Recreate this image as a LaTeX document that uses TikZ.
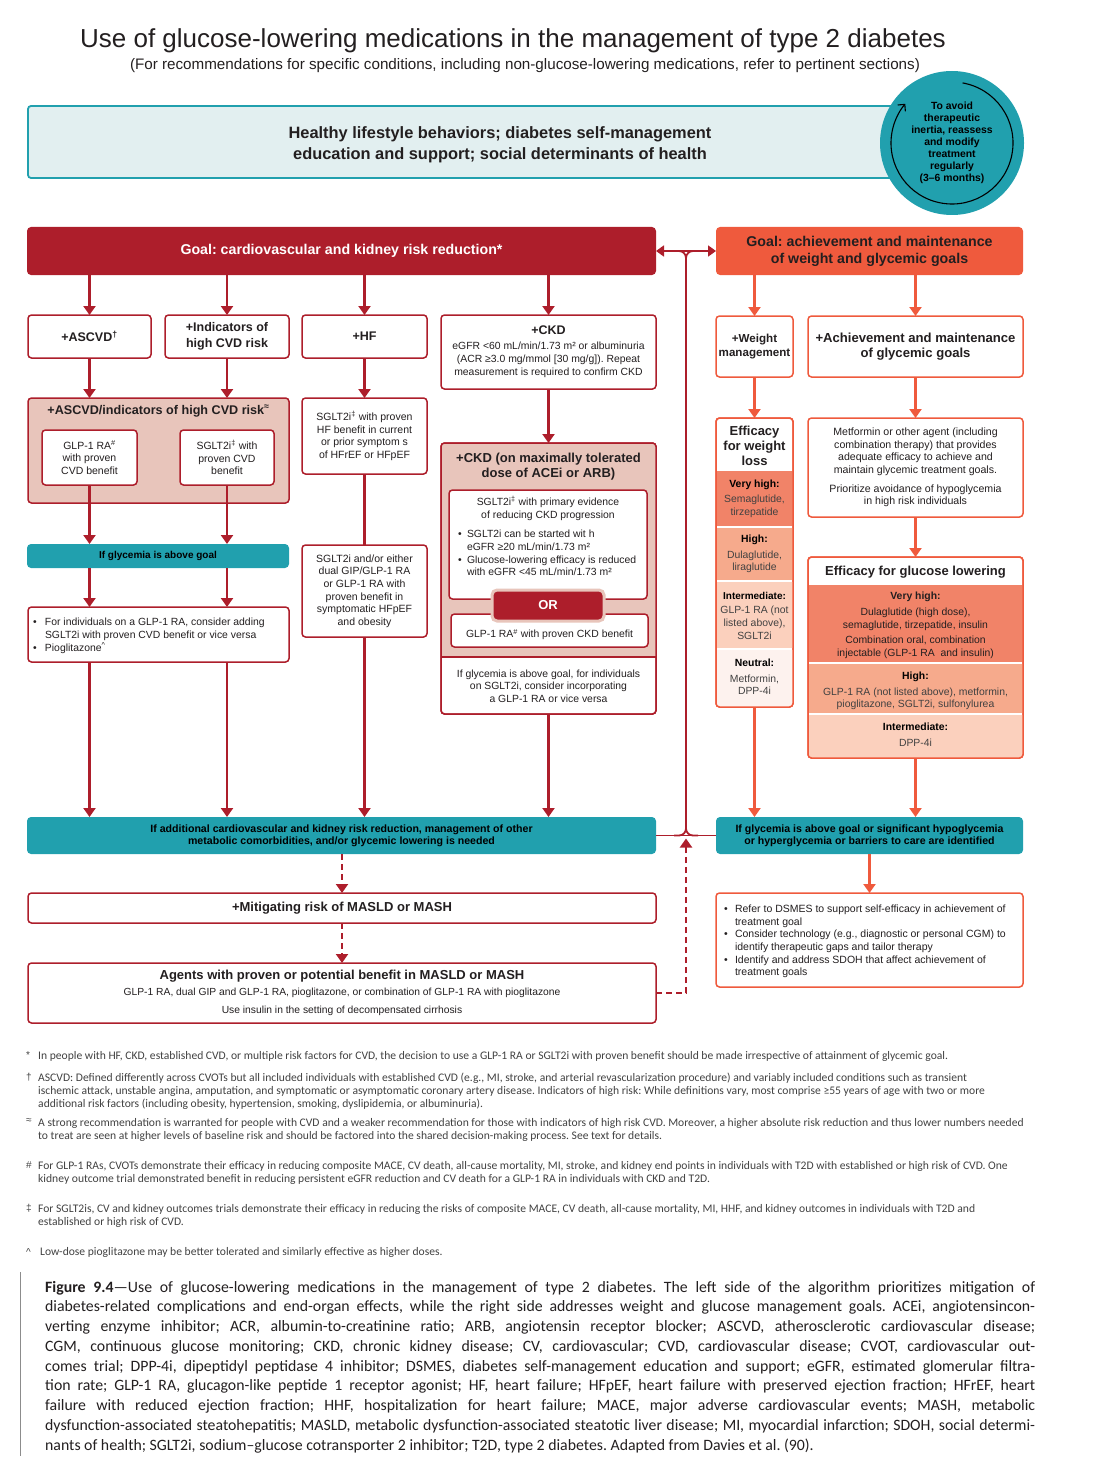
\documentclass[tikz,border=0pt]{standalone}
\usepackage{fontspec}
\setmainfont{Liberation Sans}
\newfontfamily\capfont{Carlito}
\usetikzlibrary{arrows.meta,calc}
\definecolor{dkred}{RGB}{173,30,43}
\definecolor{orng}{RGB}{239,90,61}
\definecolor{tealc}{RGB}{33,160,174}
\definecolor{ltteal}{RGB}{226,239,240}
\definecolor{pinkf}{RGB}{232,197,187}
\definecolor{tvh}{RGB}{241,131,104}
\definecolor{thi}{RGB}{246,170,140}
\definecolor{tin}{RGB}{251,208,189}
\definecolor{tne}{RGB}{253,242,238}
\definecolor{txt}{RGB}{35,31,32}
\definecolor{gtxt}{RGB}{65,65,65}
\newcommand\fsz[2]{\fontsize{#1}{#2}\selectfont}
\newcommand\bul{\makebox[11pt][l]{•}}
\newcommand\ind{\hspace*{11pt}}
\newcommand\capline[1]{\makebox[990pt][s]{#1}}
\frenchspacing
\tikzset{
 rb/.style={draw=dkred, line width=1.5pt, fill=white, rounded corners=3.5pt, inner sep=0pt, outer sep=0pt, align=center, anchor=north west, text=txt},
 ob/.style={rb, draw=orng},
 tb/.style={fill=tealc, rounded corners=4pt, inner sep=0pt, outer sep=0pt, align=center, anchor=north west, text=black},
 ra/.style={draw=dkred, line width=2.2pt, -{Triangle[length=9pt,width=12pt]}},
 oa/.style={ra, draw=orng},
 da/.style={ra, dash pattern=on 6pt off 4pt, line width=2pt},
 cl/.style={draw=dkred, line width=1.8pt},
 lbl/.style={inner sep=0pt, outer sep=0pt, align=center, text=txt},
 fsym/.style={inner sep=0pt, anchor=north west, text=gtxt, font=\fsz{10}{13}},
 ftxt/.style={inner sep=0pt, anchor=north west, align=left, text=gtxt, font=\capfont\fsz{11.6}{13}\frenchspacing},
 capl/.style={inner sep=0pt, anchor=base west, text=txt, font=\capfont\fsz{15.8}{19.75}\frenchspacing},
}
\begin{document}
\begin{tikzpicture}[x=1pt,y=-1pt]
\useasboundingbox (0,0) rectangle (1100,1479);

% ---------- title ----------
\node[lbl, font=\fsz{26}{30}] (title) at (513,41) {Use of glucose-lowering medications in the management of type 2 diabetes};
\node[lbl, font=\fsz{15.2}{18}] (subtitle) at (525,66) {(For recommendations for specific conditions, including non-glucose-lowering medications, refer to pertinent sections)};

% ---------- lifestyle header + cycle ----------
\node[draw=tealc, line width=1.8pt, fill=ltteal, rounded corners=3pt, anchor=north west, minimum width=880pt, minimum height=72pt, inner sep=0pt, outer sep=0pt] (life) at (28,106) {};
\node[lbl, font=\fsz{16.4}{21}\bfseries] (lifetxt) at (500,145) {Healthy lifestyle behaviors; diabetes self-management\\education and support; social determinants of health};
\node[circle, fill=tealc, minimum size=144pt, inner sep=0pt] (cyc) at (952,143) {};
\draw[black, line width=1.1pt, -{Straight Barb[length=5pt,width=10pt]}] (cyc.center) ++(-80:61) arc[start angle=-80, end angle=220, radius=61];
\node[lbl, font=\fsz{10.4}{11.9}\bfseries, text=black] (cyctxt) at (952,143) {To avoid\\therapeutic\\inertia, reassess\\and modify\\treatment\\regularly\\(3–6 months)};

% ---------- goals ----------
\node[fill=dkred, rounded corners=4pt, anchor=north west, minimum width=629pt, minimum height=48pt, inner sep=0pt, outer sep=0pt, text=white, font=\fsz{14.2}{17}\bfseries] (goalL) at (27,227) {Goal: cardiovascular and kidney risk reduction*};
\node[fill=orng, rounded corners=4pt, anchor=north west, minimum width=307pt, minimum height=48pt, inner sep=0pt, outer sep=0pt, text=txt, align=center, font=\fsz{14.2}{17}\bfseries] (goalR) at (716,227) {Goal: achievement and maintenance\\of weight and glycemic goals};

% ---------- left second row ----------
\node[rb, minimum width=123pt, minimum height=43pt, font=\fsz{12.5}{15}\bfseries] (ascvd) at (28,315) {+ASCVD\textsuperscript{†}};
\node[rb, minimum width=124pt, minimum height=43pt, font=\fsz{12.5}{15.5}\bfseries] (indic) at (165,315) {+Indicators of\\high CVD risk};
\node[rb, minimum width=125pt, minimum height=43pt, font=\fsz{12.5}{15}\bfseries] (hf) at (302,315) {+HF};
\node[rb, minimum width=215pt, minimum height=74pt, font=\fsz{10.4}{12.9}] (ckd) at (441,315) {{\fsz{12.5}{15}\bfseries +CKD}\\[2pt]eGFR <60 mL/min/1.73 m² or albuminuria\\(ACR ≥3.0 mg/mmol [30 mg/g]). Repeat\\measurement is required to confirm CKD};

\foreach \n in {ascvd,indic,hf,ckd} \draw[ra] (\n.north |- goalL.south) -- (\n.north);

% ---------- ASCVD group ----------
\node[rb, fill=pinkf, minimum width=261pt, minimum height=105pt] (grp) at (28,398) {};
\node[lbl, font=\fsz{12.6}{15}\bfseries] (grpT) at (158.5,411) {+ASCVD/indicators of high CVD risk\textsuperscript{≈}};
\node[rb, minimum width=95pt, minimum height=55pt, font=\fsz{10.5}{12.7}] (glp) at (42,430) {GLP-1 RA\textsuperscript{\#}\\with proven\\CVD benefit};
\node[rb, minimum width=94pt, minimum height=55pt, font=\fsz{10.5}{12.7}] (sglt) at (180,430) {SGLT2i\textsuperscript{‡} with\\proven CVD\\benefit};
\draw[ra] (ascvd.south) -- (ascvd.south |- grp.north);
\draw[ra] (indic.south) -- (indic.south |- grp.north);

\node[tb, minimum width=262pt, minimum height=24pt, font=\fsz{10}{12}\bfseries] (tbar1) at (27,544) {If glycemia is above goal};
\draw[ra] (glp.south) -- (glp.south |- tbar1.north);
\draw[ra] (sglt.south) -- (sglt.south |- tbar1.north);

\node[rb, minimum width=261pt, minimum height=55pt] (bul1) at (28,607) {};
\node[lbl, align=left, anchor=west, font=\fsz{10.4}{12.9}] (bul1t) at (33,636) {\makebox[12pt][l]{•}For individuals on a GLP-1 RA, consider adding\\\hspace*{12pt}SGLT2i with proven CVD benefit or vice versa\\\makebox[12pt][l]{•}Pioglitazone\textsuperscript{\textasciicircum}};
\draw[ra] (glp.south |- tbar1.south) -- (glp.south |- bul1.north);
\draw[ra] (sglt.south |- tbar1.south) -- (sglt.south |- bul1.north);

% ---------- HF column ----------
\node[rb, minimum width=125pt, minimum height=76pt, font=\fsz{10.5}{12.5}] (hf1) at (302,398) {SGLT2i\textsuperscript{‡} with proven\\HF benefit in current\\or prior symptom s\\of HFrEF or HFpEF};
\node[rb, minimum width=125pt, minimum height=92pt, font=\fsz{10.5}{12.6}] (hf2) at (302,545) {SGLT2i and/or either\\dual GIP/GLP-1 RA\\or GLP-1 RA with\\proven benefit in\\symptomatic HFpEF\\and obesity};
\draw[ra] (hf.south) -- (hf1.north);
\draw[cl, line width=2.2pt] (hf1.south) -- (hf2.north);

% ---------- CKD column ----------
\node[rb, minimum width=215pt, minimum height=271pt] (ckdg) at (441,443) {};
\begin{scope}
\clip[rounded corners=3.5pt] (ckdg.north west) rectangle (ckdg.south east);
\fill[pinkf] (ckdg.north west) rectangle (656,657);
\end{scope}
\draw[cl, line width=1.5pt] (ckdg.west |- 0,657) -- (ckdg.east |- 0,657);
\draw[dkred, line width=1.5pt, rounded corners=3.5pt] (ckdg.north west) rectangle (ckdg.south east);
\draw[ra] (ckd.south) -- (ckdg.north);
\node[lbl, font=\fsz{13}{15}\bfseries] (ckdT) at (548.5,466.5) {+CKD (on maximally tolerated\\dose of ACEi or ARB)};
\node[rb, minimum width=198pt, minimum height=109pt] (ckdin1) at (449,490) {};
\node[lbl, font=\fsz{10.4}{12.8}] (ckdin1t) at (548,508.5) {SGLT2i\textsuperscript{‡} with primary evidence\\of reducing CKD progression};
\node[lbl, align=left, anchor=west, font=\fsz{10.4}{12.6}] (ckdin1b) at (458,553) {\makebox[9pt][l]{•}SGLT2i can be started wit h\\\hspace*{9pt}eGFR ≥20 mL/min/1.73 m²\\\makebox[9pt][l]{•}Glucose-lowering efficacy is reduced\\\hspace*{9pt}with eGFR <45 mL/min/1.73 m²};
\node[rb, minimum width=197pt, minimum height=33pt, font=\fsz{10.4}{12.6}] (ckdin2) at (451,614) {\\[4pt]GLP-1 RA\textsuperscript{\#} with proven CKD benefit};
\node[fill=dkred, draw=pinkf, line width=3pt, rounded corners=5pt, anchor=north west, minimum width=112pt, minimum height=31pt, inner sep=0pt, outer sep=0pt, text=white, font=\fsz{13}{15}\bfseries] (orbox) at (492,590) {OR};
\node[lbl, font=\fsz{10.4}{12.6}] (ckdbot) at (548.5,686) {If glycemia is above goal, for individuals\\on SGLT2i, consider incorporating\\a GLP-1 RA or vice versa};

% ---------- bottom left ----------
\node[tb, minimum width=629pt, minimum height=37pt, font=\fsz{10.6}{12}\bfseries] (tbarL) at (27,817) {If additional cardiovascular and kidney risk reduction, management of other\\metabolic comorbidities, and/or glycemic lowering is needed};
\draw[ra] (glp.south |- bul1.south) -- (glp.south |- tbarL.north);
\draw[ra] (sglt.south |- bul1.south) -- (sglt.south |- tbarL.north);
\draw[ra] (hf2.south) -- (hf2.south |- tbarL.north);
\draw[ra] (ckdg.south) -- (ckdg.south |- tbarL.north);

\node[rb, minimum width=628pt, minimum height=30pt, font=\fsz{13}{15}\bfseries] (masl) at (28,893) {+Mitigating risk of MASLD or MASH};
\node[rb, minimum width=628pt, minimum height=60pt, font=\fsz{10.3}{12}] (agents) at (28,963) {{\fsz{13}{15}\bfseries Agents with proven or potential benefit in MASLD or MASH}\\[4pt]GLP-1 RA, dual GIP and GLP-1 RA, pioglitazone, or combination of GLP-1 RA with pioglitazone\\[6pt]Use insulin in the setting of decompensated cirrhosis};
\draw[da] (tbarL.south -| masl.north) -- (masl.north);
\draw[da] (masl.south) -- (agents.north);

% ---------- right side ----------
\node[ob, minimum width=77pt, minimum height=61pt, font=\fsz{11.6}{14}\bfseries] (wt) at (716,316) {+Weight\\management};
\node[ob, minimum width=215pt, minimum height=61pt, font=\fsz{13.1}{15.5}\bfseries] (ach) at (808,316) {+Achievement and maintenance\\of glycemic goals};
\draw[oa] (wt.north |- goalR.south) -- (wt.north);
\draw[oa] (ach.north |- goalR.south) -- (ach.north);

\node[ob, minimum width=77pt, minimum height=289pt] (wteff) at (716,418) {};
\begin{scope}
\clip[rounded corners=3.5pt] (wteff.north west) rectangle (wteff.south east);
\fill[tvh] (716,471) rectangle (793,526);
\fill[thi] (716,528) rectangle (793,580);
\fill[tin] (716,582) rectangle (793,648);
\fill[tne] (716,650) rectangle (793,707);
\end{scope}
\draw[orng, line width=1.5pt, rounded corners=3.5pt] (wteff.north west) rectangle (wteff.south east);
\node[lbl, font=\fsz{13}{15}\bfseries] (wth) at (754.5,446) {Efficacy\\for weight\\loss};
\node[lbl, text=gtxt, font=\fsz{10.4}{12.5}] (wtvh) at (754.5,498.5) {\textcolor{black}{\textbf{Very high:}}\\[3pt]Semaglutide,\\tirzepatide};
\node[lbl, text=gtxt, font=\fsz{10.4}{12.5}] (wthi) at (754.5,554) {\textcolor{black}{\textbf{High:}}\\[3pt]Dulaglutide,\\liraglutide};
\node[lbl, text=gtxt, font=\fsz{10.4}{12.7}] (wtin) at (754.5,615.5) {\textcolor{black}{\fsz{10}{12}\textbf{Intermediate:}}\\[2pt]GLP-1 RA (not\\listed above),\\SGLT2i};
\node[lbl, text=gtxt, font=\fsz{10.4}{12.5}] (wtne) at (754.5,677) {\textcolor{black}{\textbf{Neutral:}}\\[3pt]Metformin,\\DPP-4i};
\draw[oa] (wt.south) -- (wteff.north);

\node[ob, minimum width=215pt, minimum height=99pt, font=\fsz{10.6}{12.6}] (met) at (808,418) {Metformin or other agent (including\\combination therapy) that provides\\adequate efficacy to achieve and\\maintain glycemic treatment goals.\\[6pt]Prioritize avoidance of hypoglycemia\\in high risk individuals};
\draw[oa] (ach.south) -- (met.north);

\node[ob, minimum width=215pt, minimum height=201pt] (gleff) at (808,557) {};
\begin{scope}
\clip[rounded corners=3.5pt] (gleff.north west) rectangle (gleff.south east);
\fill[tvh] (808,585) rectangle (1023,662);
\fill[thi] (808,664) rectangle (1023,713);
\fill[tin] (808,715) rectangle (1023,758);
\end{scope}
\draw[orng, line width=1.5pt, rounded corners=3.5pt] (gleff.north west) rectangle (gleff.south east);
\node[lbl, font=\fsz{13}{15}\bfseries] (glh) at (915.5,572) {Efficacy for glucose lowering};
\node[lbl, font=\fsz{10.4}{12.6}] (glvh) at (915.5,625.5) {\textbf{Very high:}\\[3pt]Dulaglutide (high dose),\\semaglutide, tirzepatide, insulin\\[3pt]Combination oral, combination\\injectable (GLP-1 RA\ \ and insulin)};
\node[lbl, text=gtxt, font=\fsz{10.4}{12.6}] (glhi) at (915.5,691) {\textcolor{black}{\textbf{High:}}\\[3pt]GLP-1 RA (not listed above), metformin,\\pioglitazone, SGLT2i, sulfonylurea};
\node[lbl, text=gtxt, font=\fsz{10.4}{12.6}] (glin) at (915.5,735) {\textcolor{black}{\textbf{Intermediate:}}\\[3pt]DPP-4i};
\draw[oa] (met.south) -- (gleff.north);

\node[tb, minimum width=307pt, minimum height=37pt, font=\fsz{10.6}{12}\bfseries] (tbarR) at (716,817) {If glycemia is above goal or significant hypoglycemia\\or hyperglycemia or barriers to care are identified};
\draw[oa] (wteff.south) -- (wteff.south |- tbarR.north);
\draw[oa] (gleff.south) -- (gleff.south |- tbarR.north);

\node[ob, minimum width=307pt, minimum height=94pt] (dsmes) at (716,893) {};
\node[lbl, align=left, anchor=west, font=\fsz{10.5}{12.7}] (dsmest) at (724,941.5) {\bul Refer to DSMES to support self-efficacy in achievement of\\\ind treatment goal\\\bul Consider technology (e.g., diagnostic or personal CGM) to\\\ind identify therapeutic gaps and tailor therapy\\\bul Identify and address SDOH that affect achievement of\\\ind treatment goals};
\draw[oa] (tbarR.south) -- (dsmes.north);

% ---------- central connector ----------
\coordinate (jt) at (686,251);
\coordinate (jb) at (686,835.5);
\draw[cl, {Triangle[length=8pt,width=11pt]}-{Triangle[length=8pt,width=11pt]}] (goalL.east) -- (goalR.west);
\draw[cl, rounded corners=7pt] ($(jt)+(-12,0)$) -| ($(jt)+(0,40)$);
\draw[cl, rounded corners=7pt] ($(jt)+(12,0)$) -| ($(jt)+(0,40)$);
\draw[cl] ($(jt)+(0,39)$) -- ($(jb)+(0,-39)$);
\draw[cl] (tbarL.east) -- (tbarR.west);
\draw[cl, rounded corners=7pt] ($(jb)+(0,-40)$) |- ($(jb)+(-12,0)$);
\draw[cl, rounded corners=7pt] ($(jb)+(0,-40)$) |- ($(jb)+(12,0)$);
\coordinate (jba) at ($(jb)+(0,3)$);
\draw[da] (agents.east) -| (jba);

% ---------- footnotes ----------
\node[fsym] (s1) at (26,1051) {*};
\node[ftxt] (f1) at (38,1051) {In people with HF, CKD, established CVD, or multiple risk factors for CVD, the decision to use a GLP-1 RA or SGLT2i with proven benefit should be made irrespective of attainment of glycemic goal.};
\node[fsym] (s2) at (26,1073) {†};
\node[ftxt] (f2) at (38,1073) {ASCVD: Defined differently across CVOTs but all included individuals with established CVD (e.g., MI, stroke, and arterial revascularization procedure) and variably included conditions such as transient\\ischemic attack, unstable angina, amputation, and symptomatic or asymptomatic coronary artery disease. Indicators of high risk: While definitions vary, most comprise ≥55 years of age with two or more\\additional risk factors (including obesity, hypertension, smoking, dyslipidemia, or albuminuria).};
\node[fsym] (s3) at (26,1118) {≈};
\node[ftxt] (f3) at (38,1118) {A strong recommendation is warranted for people with CVD and a weaker recommendation for those with indicators of high risk CVD. Moreover, a higher absolute risk reduction and thus lower numbers needed\\to treat are seen at higher levels of baseline risk and should be factored into the shared decision-making process. See text for details.};
\node[fsym] (s4) at (26,1161) {\#};
\node[ftxt] (f4) at (38,1161) {For GLP-1 RAs, CVOTs demonstrate their efficacy in reducing composite MACE, CV death, all-cause mortality, MI, stroke, and kidney end points in individuals with T2D with established or high risk of CVD. One\\kidney outcome trial demonstrated benefit in reducing persistent eGFR reduction and CV death for a GLP-1 RA in individuals with CKD and T2D.};
\node[fsym] (s5) at (26,1204) {‡};
\node[ftxt] (f5) at (38,1204) {For SGLT2is, CV and kidney outcomes trials demonstrate their efficacy in reducing the risks of composite MACE, CV death, all-cause mortality, MI, HHF, and kidney outcomes in individuals with T2D and\\established or high risk of CVD.};
\node[fsym] (s6) at (26,1248) {\textasciicircum};
\node[ftxt] (f6) at (40,1247) {Low-dose pioglitazone may be better tolerated and similarly effective as higher doses.};

% ---------- caption ----------
\draw[black!45, line width=1pt] (20,1272) -- (20,1456);
\node[capl] (c1) at (45,1292) {\capline{\textbf{Figure 9.4}—Use of glucose-lowering medications in the management of type 2 diabetes. The left side of the algorithm prioritizes mitigation of}};
\node[capl] (c2) at (45,1311.75) {\capline{diabetes-related complications and end-organ effects, while the right side addresses weight and glucose management goals. ACEi, angiotensincon-}};
\node[capl] (c3) at (45,1331.5) {\capline{verting enzyme inhibitor; ACR, albumin-to-creatinine ratio; ARB, angiotensin receptor blocker; ASCVD, atherosclerotic cardiovascular disease;}};
\node[capl] (c4) at (45,1351.25) {\capline{CGM, continuous glucose monitoring; CKD, chronic kidney disease; CV, cardiovascular; CVD, cardiovascular disease; CVOT, cardiovascular out-}};
\node[capl] (c5) at (45,1371) {\capline{comes trial; DPP-4i, dipeptidyl peptidase 4 inhibitor; DSMES, diabetes self-management education and support; eGFR, estimated glomerular filtra-}};
\node[capl] (c6) at (45,1390.75) {\capline{tion rate; GLP-1 RA, glucagon-like peptide 1 receptor agonist; HF, heart failure; HFpEF, heart failure with preserved ejection fraction; HFrEF, heart}};
\node[capl] (c7) at (45,1410.5) {\capline{failure with reduced ejection fraction; HHF, hospitalization for heart failure; MACE, major adverse cardiovascular events; MASH, metabolic}};
\node[capl] (c8) at (45,1430.25) {\capline{dysfunction-associated steatohepatitis; MASLD, metabolic dysfunction-associated steatotic liver disease; MI, myocardial infarction; SDOH, social determi-}};
\node[capl] (c9) at (45,1450) {nants of health; SGLT2i, sodium–glucose cotransporter 2 inhibitor; T2D, type 2 diabetes. Adapted from Davies et al. (90).};
\end{tikzpicture}
\end{document}
